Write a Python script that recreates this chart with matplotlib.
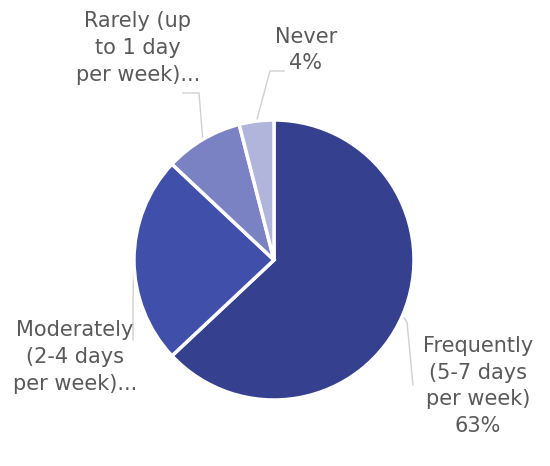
import numpy as np
import matplotlib.pyplot as plt

labels = ['Frequently\n(5-7 days\nper week)\n63%',
          'Moderately\n(2-4 days\nper week)...',
          'Rarely (up\nto 1 day\nper week)...',
          'Never\n4%']
shares = [63, 24, 9, 4]
colors = ['#35408E', '#4050AA', '#7A82C4', '#B1B5DC']

W, H = 550, 466
fig = plt.figure(figsize=(W / 100, H / 100), dpi=100)
ax = fig.add_axes([0, 0, 1, 1])

cx, cy, r = 274, H - 260, 140
wedges, _ = ax.pie(shares, colors=colors, startangle=90, counterclock=False,
                   center=(cx, cy), radius=r, frame=True,
                   wedgeprops=dict(edgecolor='white', linewidth=2.5))
ax.set_xlim(0, W)
ax.set_ylim(0, H)
ax.set_aspect('equal')
ax.axis('off')

# label text positions (px, from top) and leader line elbows
text_pos = [(478, 386), (75, 357), (138, 48), (306, 50)]
elbows = [[(413, 385), (407, 322)],
          [(133, 340), (133, 300)],
          [(183, 93), (199, 93)],
          [(284, 71), (270, 71)]]

for w, lab, (tx, ty), pts in zip(wedges, labels, text_pos, elbows):
    ax.text(tx, H - ty, lab, ha='center', va='center', fontsize=15,
            color='#595959', linespacing=1.42, family='DejaVu Sans')
    mid = np.deg2rad((w.theta1 + w.theta2) / 2)
    ex, ey = cx + r * np.cos(mid), cy + r * np.sin(mid)
    xs = [p[0] for p in pts] + [ex]
    ys = [H - p[1] for p in pts] + [ey]
    ax.plot(xs, ys, color='#D0D0D0', linewidth=1, zorder=0)

fig.savefig('out.png', dpi=100)
